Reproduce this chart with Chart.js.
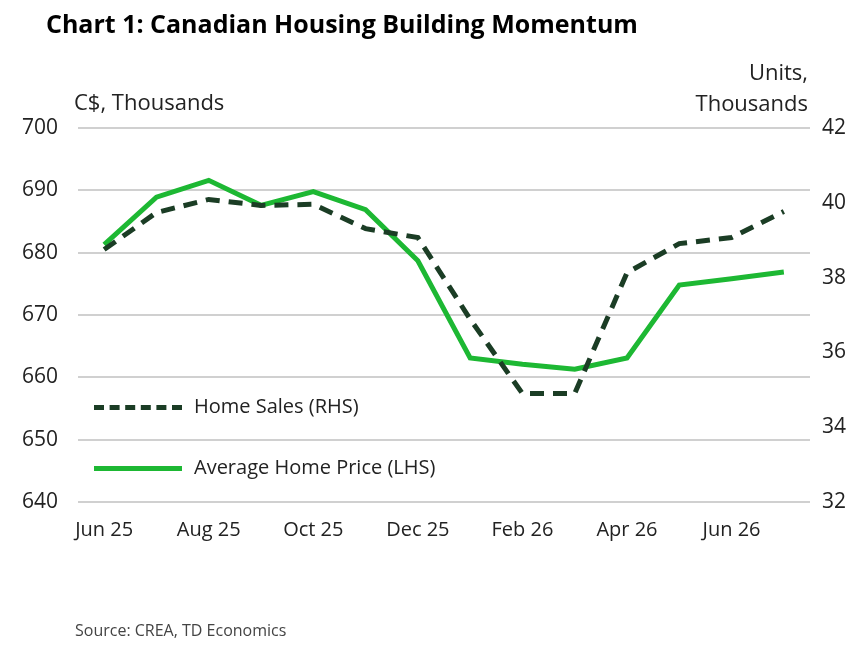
<!DOCTYPE html>
<html><head><meta charset="utf-8">
<script src="https://cdn.jsdelivr.net/npm/chart.js@4"></script>
<style>
body{margin:0;background:#fff;font-family:"Open Sans",sans-serif;}
#wrap{position:relative;width:868px;height:648px;}
#c{position:absolute;left:0;top:0;}
.t{position:absolute;color:#222;white-space:nowrap;}
</style></head><body>
<div id="wrap">
<canvas id="c" width="868" height="648"></canvas>
<div class="t" style="left:46px;top:6px;font-size:25px;font-weight:bold;color:#000">Chart 1: Canadian Housing Building Momentum</div>
<div class="t" style="left:74px;top:86px;font-size:22px">C$, Thousands</div>
<div class="t" style="right:60px;top:56px;font-size:22px;text-align:right;line-height:31px">Units,<br>Thousands</div>
<div class="t" style="left:94px;top:392px;font-size:20px"><span style="display:inline-block;width:88px;border-top:5px dashed #1b3d25;vertical-align:middle;margin-right:12px"></span>Home Sales (RHS)</div>
<div class="t" style="left:94px;top:453px;font-size:20px"><span style="display:inline-block;width:88px;border-top:5px solid #1db833;vertical-align:middle;margin-right:12px"></span>Average Home Price (LHS)</div>
<div class="t" style="left:75px;top:619px;font-size:16px;color:#444">Source: CREA, TD Economics</div>
</div>
<script>
const categories=["Jun 25","Jul 25","Aug 25","Sep 25","Oct 25","Nov 25","Dec 25","Jan 26","Feb 26","Mar 26","Apr 26","May 26","Jun 26","Jul 26"];
const avgPrice=[681.3,688.9,691.6,687.6,689.8,686.9,678.7,663.1,662.1,661.3,663.1,674.8,675.8,676.9];
const homeSales=[38.75,39.74,40.09,39.93,39.96,39.31,39.07,36.89,34.9,34.9,38.13,38.91,39.07,39.77];
new Chart(document.getElementById('c'),{
type:'line',
data:{labels:categories,datasets:[
{data:homeSales,yAxisID:'y1',borderColor:'#1b3d25',borderWidth:5,borderDash:[14,9],pointRadius:0,tension:0},
{data:avgPrice,yAxisID:'y',borderColor:'#1db833',borderWidth:5,pointRadius:0,tension:0}
]},
options:{responsive:false,animation:false,
layout:{padding:{top:128,bottom:98,left:2,right:10}},
plugins:{legend:{display:false},tooltip:{enabled:false}},
scales:{
x:{offset:true,grid:{display:false},border:{display:false},
 ticks:{autoSkip:false,maxRotation:0,color:'#222',font:{size:20,family:'Open Sans'},padding:8,
 callback:(v,i)=>i%2===0?categories[i]:''}},
y:{position:'left',min:640,max:700,grid:{color:'#d0d0d0',lineWidth:2,drawTicks:false},border:{display:false},
 ticks:{stepSize:10,color:'#222',font:{size:21,family:'Open Sans'},padding:20}},
y1:{position:'right',min:32,max:42,grid:{display:false,drawTicks:false},border:{display:false},
 ticks:{stepSize:2,color:'#222',font:{size:21,family:'Open Sans'},padding:12}}
}}});
</script></body></html>
